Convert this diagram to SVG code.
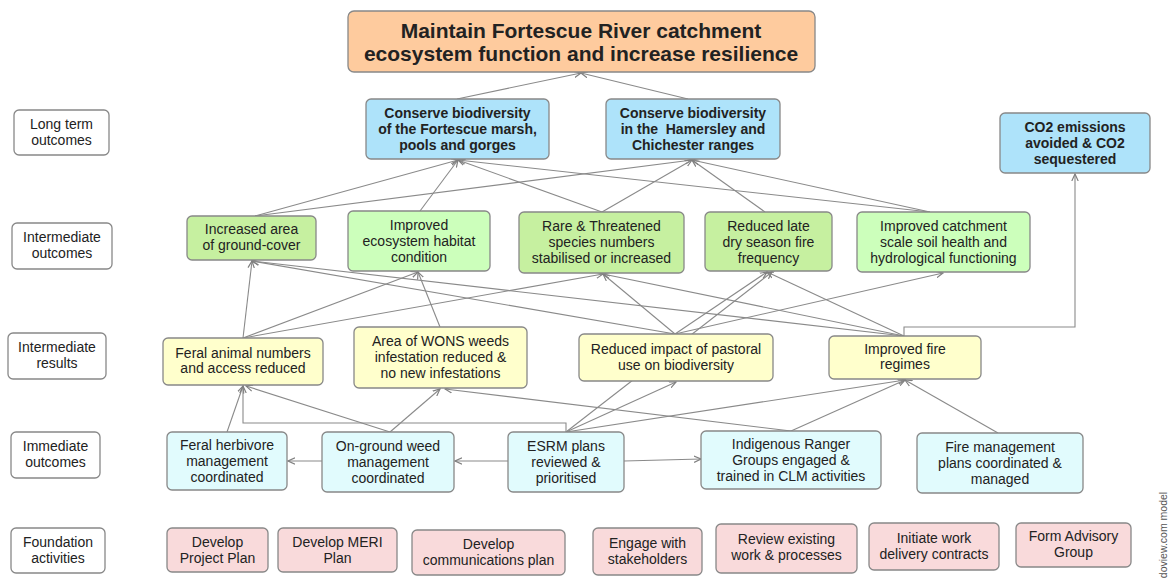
<svg xmlns="http://www.w3.org/2000/svg" width="1173" height="582" viewBox="0 0 1173 582">
<style>
.n{stroke:#888;stroke-width:1.3}
.t{font-family:"Liberation Sans",Arial,sans-serif;font-size:14px;fill:#222;text-anchor:middle}
.b{font-weight:bold}
.title{font-family:"Liberation Sans",Arial,sans-serif;font-size:21px;font-weight:bold;fill:#222;text-anchor:middle}
.lbl{fill:#fff}
.lt{fill:#aee3fa}
.g1{fill:#c6f0a0}
.g2{fill:#ccffbb}
.ir{fill:#ffffcc}
.im{fill:#e1fbfd}
.fa{fill:#f9dadb}
.c{fill:none;stroke:#8a8a8a;stroke-width:1.1;marker-end:url(#arr)}
</style>
<defs>
<marker id="arr" viewBox="0 0 8 8" refX="7" refY="4" markerWidth="8" markerHeight="8" orient="auto" markerUnits="userSpaceOnUse"><path d="M0,0.8 L7,4 L0,7.2" fill="none" stroke="#808080" stroke-width="1.2"/></marker>
</defs>
<rect width="1173" height="582" fill="#fff"/>
<g id="connectors">
<line class="c" x1="457" y1="99" x2="581" y2="73"/>
<line class="c" x1="688" y1="99" x2="581" y2="73"/>
<line class="c" x1="255" y1="216" x2="458" y2="160"/>
<line class="c" x1="255" y1="216" x2="692" y2="160"/>
<line class="c" x1="420" y1="211" x2="458" y2="160"/>
<line class="c" x1="602" y1="212" x2="458" y2="160"/>
<line class="c" x1="602" y1="212" x2="692" y2="160"/>
<line class="c" x1="765" y1="212" x2="692" y2="160"/>
<line class="c" x1="930" y1="212" x2="458" y2="160"/>
<line class="c" x1="930" y1="212" x2="692" y2="160"/>
<line class="c" x1="243" y1="338" x2="252" y2="261"/>
<line class="c" x1="243" y1="338" x2="418" y2="272"/>
<line class="c" x1="243" y1="338" x2="603" y2="274"/>
<line class="c" x1="440" y1="327" x2="418" y2="272"/>
<line class="c" x1="675" y1="334" x2="603" y2="274"/>
<line class="c" x1="675" y1="334" x2="767" y2="272"/>
<line class="c" x1="675" y1="334" x2="943" y2="273"/>
<line class="c" x1="675" y1="334" x2="252" y2="261"/>
<line class="c" x1="904" y1="336" x2="252" y2="261"/>
<line class="c" x1="904" y1="336" x2="603" y2="274"/>
<line class="c" x1="904" y1="336" x2="767" y2="272"/>
<path class="c" d="M904,336 V327 H1075 V174"/>
<line class="c" x1="566" y1="432" x2="772" y2="272"/>
<line class="c" x1="227" y1="432" x2="243" y2="386"/>
<path class="c" d="M566,432 V423 H243 V386"/>
<line class="c" x1="390" y1="432" x2="246" y2="386"/>
<line class="c" x1="390" y1="432" x2="440" y2="389"/>
<line class="c" x1="791" y1="431" x2="445" y2="389"/>
<line class="c" x1="566" y1="432" x2="676" y2="382"/>
<line class="c" x1="566" y1="432" x2="905" y2="380"/>
<line class="c" x1="791" y1="431" x2="905" y2="380"/>
<line class="c" x1="998" y1="433" x2="905" y2="380"/>
<line class="c" x1="322" y1="461" x2="288" y2="461"/>
<line class="c" x1="508" y1="461" x2="455" y2="461"/>
<line class="c" x1="624" y1="461" x2="701" y2="459"/>
</g>
<g id="title"><rect class="n" x="348" y="11" width="467" height="61" rx="6" fill="#fecb9e"/>
<text class="title" x="581" y="37.5">Maintain Fortescue River catchment</text>
<text class="title" x="581" y="60.5">ecosystem function and increase resilience</text></g>
<g id="lbl-long"><rect class="n lbl" x="14" y="110" width="95" height="45" rx="5"/>
<text class="t" x="61.5" y="129">Long term</text><text class="t" x="61.5" y="145">outcomes</text></g>
<g id="lbl-int-out"><rect class="n lbl" x="12" y="223" width="100" height="46" rx="5"/>
<text class="t" x="62" y="242">Intermediate</text><text class="t" x="62" y="258">outcomes</text></g>
<g id="lbl-int-res"><rect class="n lbl" x="8" y="333" width="98" height="46" rx="5"/>
<text class="t" x="57" y="352">Intermediate</text><text class="t" x="57" y="368">results</text></g>
<g id="lbl-imm"><rect class="n lbl" x="11" y="432" width="89" height="46" rx="5"/>
<text class="t" x="55.5" y="451">Immediate</text><text class="t" x="55.5" y="467">outcomes</text></g>
<g id="lbl-found"><rect class="n lbl" x="11" y="528" width="94" height="45" rx="5"/>
<text class="t" x="58" y="547">Foundation</text><text class="t" x="58" y="563">activities</text></g>
<g id="lt1"><rect class="n lt" x="366" y="99" width="183" height="60" rx="5"/>
<text class="t b" x="457.5" y="118">Conserve biodiversity</text><text class="t b" x="457.5" y="134">of the Fortescue marsh,</text><text class="t b" x="457.5" y="150">pools and gorges</text></g>
<g id="lt2"><rect class="n lt" x="606" y="99" width="174" height="60" rx="5"/>
<text class="t b" x="693" y="118">Conserve biodiversity</text><text class="t b" x="693" y="134" xml:space="preserve">in the  Hamersley and</text><text class="t b" x="693" y="150">Chichester ranges</text></g>
<g id="lt3"><rect class="n lt" x="1000" y="113" width="150" height="60" rx="5"/>
<text class="t b" x="1075" y="132">CO2 emissions</text><text class="t b" x="1075" y="148">avoided &amp; CO2</text><text class="t b" x="1075" y="164">sequestered</text></g>
<g id="io1"><rect class="n g1" x="187" y="216" width="129" height="44" rx="5"/>
<text class="t" x="251.5" y="234">Increased area</text><text class="t" x="251.5" y="250">of ground-cover</text></g>
<g id="io2"><rect class="n g2" x="348" y="211" width="142" height="60" rx="5"/>
<text class="t" x="419" y="230">Improved</text><text class="t" x="419" y="246">ecosystem habitat</text><text class="t" x="419" y="262">condition</text></g>
<g id="io3"><rect class="n g1" x="519" y="212" width="165" height="61" rx="5"/>
<text class="t" x="601.5" y="231">Rare &amp; Threatened</text><text class="t" x="601.5" y="247">species numbers</text><text class="t" x="601.5" y="263">stabilised or increased</text></g>
<g id="io4"><rect class="n g1" x="705" y="212" width="127" height="59" rx="5"/>
<text class="t" x="768.5" y="231">Reduced late</text><text class="t" x="768.5" y="247">dry season fire</text><text class="t" x="768.5" y="263">frequency</text></g>
<g id="io5"><rect class="n g2" x="857" y="212" width="173" height="60" rx="5"/>
<text class="t" x="943.5" y="231">Improved catchment</text><text class="t" x="943.5" y="247">scale soil health and</text><text class="t" x="943.5" y="263">hydrological functioning</text></g>
<g id="ir1"><rect class="n ir" x="163" y="338" width="160" height="47" rx="5"/>
<text class="t" x="243" y="358">Feral animal numbers</text><text class="t" x="243" y="373">and access reduced</text></g>
<g id="ir2"><rect class="n ir" x="354" y="327" width="173" height="61" rx="5"/>
<text class="t" x="440.5" y="346">Area of WONS weeds</text><text class="t" x="440.5" y="362">infestation reduced &amp;</text><text class="t" x="440.5" y="378">no new infestations</text></g>
<g id="ir3"><rect class="n ir" x="579" y="334" width="194" height="47" rx="5"/>
<text class="t" x="676" y="354">Reduced impact of pastoral</text><text class="t" x="676" y="370">use on biodiversity</text></g>
<g id="ir4"><rect class="n ir" x="829" y="336" width="152" height="43" rx="5"/>
<text class="t" x="905" y="354">Improved fire</text><text class="t" x="905" y="369">regimes</text></g>
<g id="im1"><rect class="n im" x="167" y="432" width="120" height="58" rx="5"/>
<text class="t" x="227" y="450">Feral herbivore</text><text class="t" x="227" y="466">management</text><text class="t" x="227" y="482">coordinated</text></g>
<g id="im2"><rect class="n im" x="322" y="432" width="132" height="60" rx="5"/>
<text class="t" x="388" y="451">On-ground weed</text><text class="t" x="388" y="467">management</text><text class="t" x="388" y="483">coordinated</text></g>
<g id="im3"><rect class="n im" x="508" y="432" width="116" height="60" rx="5"/>
<text class="t" x="566" y="451">ESRM plans</text><text class="t" x="566" y="467">reviewed &amp;</text><text class="t" x="566" y="483">prioritised</text></g>
<g id="im4"><rect class="n im" x="701" y="431" width="180" height="58" rx="5"/>
<text class="t" x="791" y="449">Indigenous Ranger</text><text class="t" x="791" y="465">Groups engaged &amp;</text><text class="t" x="791" y="481">trained in CLM activities</text></g>
<g id="im5"><rect class="n im" x="917" y="433" width="166" height="60" rx="5"/>
<text class="t" x="1000" y="452">Fire management</text><text class="t" x="1000" y="468">plans coordinated &amp;</text><text class="t" x="1000" y="484">managed</text></g>
<g id="f1"><rect class="n fa" x="167" y="528" width="101" height="44" rx="5"/>
<text class="t" x="217.5" y="547">Develop</text><text class="t" x="217.5" y="563">Project Plan</text></g>
<g id="f2"><rect class="n fa" x="278" y="528" width="119" height="44" rx="5"/>
<text class="t" x="337.5" y="547">Develop MERI</text><text class="t" x="337.5" y="563">Plan</text></g>
<g id="f3"><rect class="n fa" x="412" y="530" width="153" height="45" rx="5"/>
<text class="t" x="488.5" y="549">Develop</text><text class="t" x="488.5" y="565">communications plan</text></g>
<g id="f4"><rect class="n fa" x="593" y="528" width="109" height="47" rx="5"/>
<text class="t" x="647.5" y="548">Engage with</text><text class="t" x="647.5" y="564">stakeholders</text></g>
<g id="f5"><rect class="n fa" x="716" y="524" width="141" height="49" rx="5"/>
<text class="t" x="786.5" y="544">Review existing</text><text class="t" x="786.5" y="560">work &amp; processes</text></g>
<g id="f6"><rect class="n fa" x="869" y="523" width="130" height="47" rx="5"/>
<text class="t" x="934" y="543">Initiate work</text><text class="t" x="934" y="559">delivery contracts</text></g>
<g id="f7"><rect class="n fa" x="1016" y="523" width="115" height="44" rx="5"/>
<text class="t" x="1073.5" y="541">Form Advisory</text><text class="t" x="1073.5" y="557">Group</text></g>
<text transform="translate(1167,535) rotate(-90)" font-family="'Liberation Sans',Arial,sans-serif" font-size="10.5" fill="#555" text-anchor="middle">doview.com model</text>
</svg>
